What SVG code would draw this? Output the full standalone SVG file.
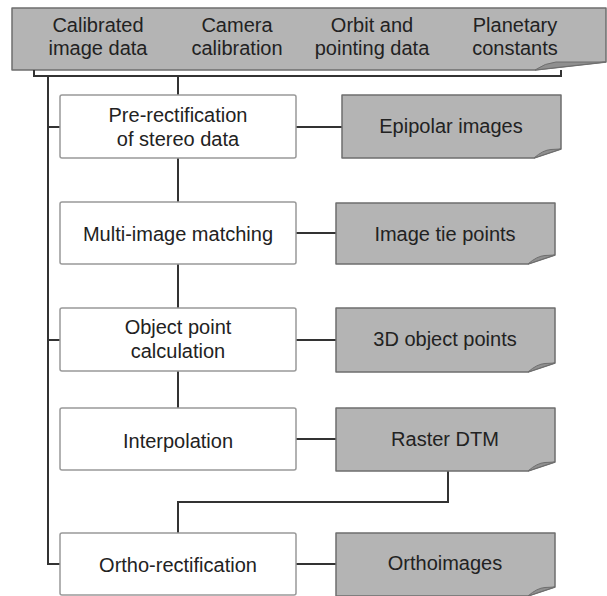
<svg xmlns="http://www.w3.org/2000/svg" width="607" height="596" viewBox="0 0 607 596">
<style>
text{font-family:"Liberation Sans",Arial,sans-serif;font-size:20px;fill:#222;text-anchor:middle}
.proc{fill:#fff;stroke:#999;stroke-width:1.5}
.data{fill:#b4b4b4;stroke:#6e6e6e;stroke-width:1.5;stroke-linejoin:round}
.flap{fill:#8f8f8f;stroke:#6e6e6e;stroke-width:1}
.conn{fill:none;stroke:#333;stroke-width:2}
</style>
<rect width="607" height="596" fill="#fff"/>
<g id="inputs">
<path class="data" d="M12,8 H606 V62 L535,70 H12 Z"/>
<path class="flap" d="M535,70 Q545,63 556,62 H606 Z"/>
<text x="98" y="32">Calibrated</text><text x="98" y="55">image data</text>
<text x="237" y="32">Camera</text><text x="237" y="55">calibration</text>
<text x="372" y="32">Orbit and</text><text x="372" y="55">pointing data</text>
<text x="515" y="32">Planetary</text><text x="515" y="55">constants</text>
</g>
<g id="connectors">
<path class="conn" d="M34,70 V76 H561 V70"/>
<path class="conn" d="M48,76 V564 H60 M48,127 H60 M48,340 H60"/>
<path class="conn" d="M178,76 V95 M178,158 V202 M178,264 V308 M178,371 V408"/>
<path class="conn" d="M448,471 V502 H178 V533"/>
<path class="conn" d="M296,127 H342 M296,233 H336 M296,340 H336 M296,439 H336 M296,564 H336"/>
</g>
<g id="prerect"><rect class="proc" x="60" y="95" width="236" height="63" rx="2"/>
<text x="178" y="122">Pre-rectification</text><text x="178" y="146">of stereo data</text></g>
<g id="matching"><rect class="proc" x="60" y="202" width="236" height="62" rx="2"/>
<text x="178" y="241">Multi-image matching</text></g>
<g id="objpoint"><rect class="proc" x="60" y="308" width="236" height="63" rx="2"/>
<text x="178" y="334">Object point</text><text x="178" y="358">calculation</text></g>
<g id="interp"><rect class="proc" x="60" y="408" width="236" height="62" rx="2"/>
<text x="178" y="448">Interpolation</text></g>
<g id="ortho"><rect class="proc" x="60" y="533" width="236" height="62" rx="2"/>
<text x="178" y="572">Ortho-rectification</text></g>
<g id="epipolar"><path class="data" d="M342,95 H561 V149 L534,158 H342 Z"/>
<path class="flap" d="M534,158 Q543,150 551,149.5 L561,149 Z"/>
<text x="451" y="133">Epipolar images</text></g>
<g id="tiepoints"><path class="data" d="M336,203 H555 V255 L528,264 H336 Z"/>
<path class="flap" d="M528,264 Q537,256 545,255.5 L555,255 Z"/>
<text x="445" y="241">Image tie points</text></g>
<g id="objpoints"><path class="data" d="M336,308 H555 V363 L528,372 H336 Z"/>
<path class="flap" d="M528,372 Q537,364 545,363.5 L555,363 Z"/>
<text x="445" y="346">3D object points</text></g>
<g id="dtm"><path class="data" d="M336,408 H555 V462 L528,471 H336 Z"/>
<path class="flap" d="M528,471 Q537,463 545,462.5 L555,462 Z"/>
<text x="445" y="446">Raster DTM</text></g>
<g id="orthoimages"><path class="data" d="M336,533 H555 V587 L528,596 H336 Z"/>
<path class="flap" d="M528,596 Q537,588 545,587.5 L555,587 Z"/>
<text x="445" y="570">Orthoimages</text></g>
</svg>
